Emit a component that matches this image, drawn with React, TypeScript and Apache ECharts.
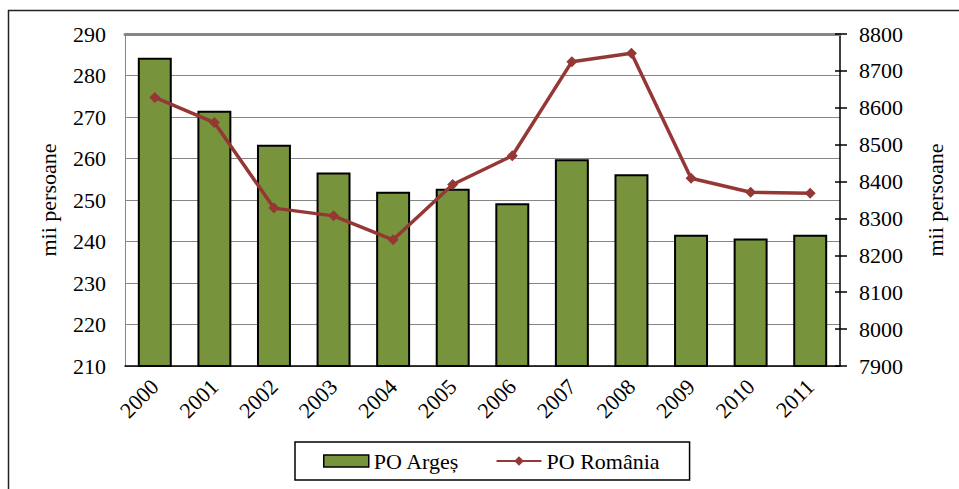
import React, { useEffect, useRef } from "react";
import * as echarts from "echarts";

const years = ["2000", "2001", "2002", "2003", "2004", "2005", "2006", "2007", "2008", "2009", "2010", "2011"];
const poArges = [284.3, 271.5, 263.3, 256.6, 252.0, 252.7, 249.2, 259.8, 256.2, 241.6, 240.7, 241.6];
const poRomania = [8628, 8560, 8328, 8307, 8242, 8392, 8470, 8725, 8748, 8409, 8371, 8368];
const seriesNames = ["PO Argeș", "PO România"];
const axisTitle = "mii persoane";

const FONT = "Liberation Serif";

export default function App() {
  const ref = useRef<HTMLDivElement>(null);
  useEffect(() => {
    if (!ref.current) return;
    const chart = echarts.init(ref.current, null, { renderer: "svg" });
    chart.setOption({
      animation: false,
      backgroundColor: "#ffffff",
      textStyle: { fontFamily: FONT, color: "#000" },
      grid: { left: 125, right: 119, top: 34, bottom: 123, containLabel: false },
      legend: {
        left: 295,
        top: 442,
        padding: [8, 30, 8, 28],
        itemGap: 36,
        itemWidth: 45,
        itemHeight: 12,
        borderColor: "#000",
        borderWidth: 1.5,
        textStyle: { fontFamily: FONT, fontSize: 22, color: "#000" },
        data: [
          { name: seriesNames[0], icon: "rect", itemStyle: { borderColor: "#000", borderWidth: 1.5 } },
          { name: seriesNames[1] },
        ],
      },
      graphic: [
        { type: "line", shape: { x1: 8.5, y1: 10, x2: 8.5, y2: 489 }, style: { stroke: "#222", lineWidth: 1.5 } },
        { type: "line", shape: { x1: 8, y1: 10.5, x2: 959, y2: 10.5 }, style: { stroke: "#222", lineWidth: 1.5 } },
      ],
      xAxis: [
        {
          type: "category",
          data: years,
          position: "bottom",
          axisLine: { lineStyle: { color: "#000", width: 1.5 } },
          axisTick: { show: false },
          axisLabel: { rotate: 45, fontFamily: FONT, fontSize: 22, color: "#000", margin: 17 },
        },
        {
          type: "category",
          data: years,
          position: "top",
          axisLine: { lineStyle: { color: "#868686", width: 3 } },
          axisTick: { show: false },
          axisLabel: { show: false },
        },
      ],
      yAxis: [
        {
          type: "value",
          min: 210,
          max: 290,
          interval: 10,
          position: "left",
          name: axisTitle,
          nameLocation: "middle",
          nameGap: 66,
          nameTextStyle: { fontFamily: FONT, fontSize: 22, color: "#000" },
          axisLine: { show: true, lineStyle: { color: "#868686", width: 1 } },
          axisTick: { show: false },
          splitLine: { show: true, lineStyle: { color: "#868686", width: 1 } },
          axisLabel: { fontFamily: FONT, fontSize: 22, color: "#000", margin: 19 },
        },
        {
          type: "value",
          min: 7900,
          max: 8800,
          interval: 100,
          position: "right",
          name: axisTitle,
          nameLocation: "middle",
          nameGap: 84,
          nameRotate: 90,
          nameTextStyle: { fontFamily: FONT, fontSize: 22, color: "#000" },
          axisLine: { show: true, lineStyle: { color: "#000", width: 1.5 } },
          axisTick: { show: true, inside: false, length: 7, lineStyle: { color: "#000", width: 1.5 } },
          splitLine: { show: false },
          axisLabel: { fontFamily: FONT, fontSize: 22, color: "#000", margin: 19, formatter: (v: number) => String(v) },
        },
        {
          type: "value",
          min: 7900,
          max: 8800,
          interval: 100,
          position: "right",
          axisLine: { show: false },
          axisTick: { show: true, inside: true, length: 5, lineStyle: { color: "#000", width: 1.5 } },
          splitLine: { show: false },
          axisLabel: { show: false },
        },
      ],
      series: [
        {
          name: seriesNames[0],
          type: "bar",
          data: poArges,
          xAxisIndex: 0,
          yAxisIndex: 0,
          barWidth: "57%",
          itemStyle: { color: "#77933C", borderColor: "#000", borderWidth: 2 },
        },
        {
          name: seriesNames[1],
          type: "line",
          data: poRomania,
          xAxisIndex: 0,
          yAxisIndex: 1,
          symbol: "diamond",
          symbolSize: 11,
          lineStyle: { color: "#953735", width: 3.5 },
          itemStyle: { color: "#953735" },
        },
      ],
    });
    return () => chart.dispose();
  }, []);
  return <div ref={ref} style={{ width: 959, height: 489, position: "absolute", left: 0, top: 0 }} />;
}
